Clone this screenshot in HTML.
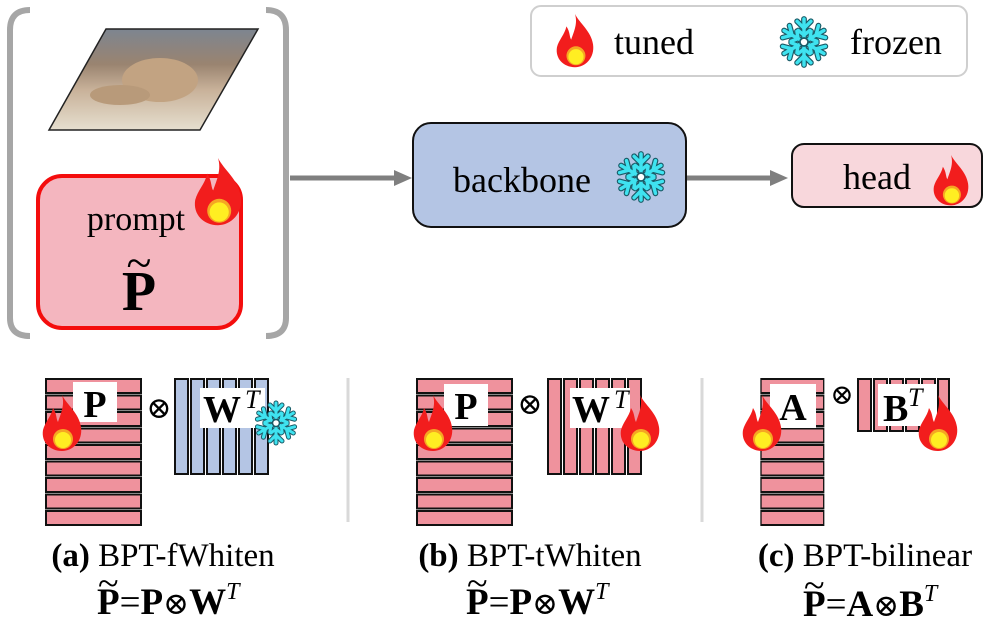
<!DOCTYPE html>
<html><head><meta charset="utf-8"><style>
html,body{margin:0;padding:0;background:#fff}
svg{display:block}
</style></head><body>
<svg width="987" height="624" viewBox="0 0 987 624" xmlns="http://www.w3.org/2000/svg" font-family="'Liberation Serif', 'DejaVu Serif', serif">
<defs>
<g id="flame">
<path d="M20 0 C25 10 37 18 39 32 C41 46 31 56 20 56 C8 56 -1 47 1 35 C3 27 9 22 11 13 C15 19 14 24 16 27 C19 18 23 10 20 0Z" fill="#f21d1d"/>
<circle cx="21" cy="44" r="10" fill="#f5a623"/>
<circle cx="21" cy="45" r="8" fill="#ffee22"/>
</g>
<g id="arm">
<line x1="0" y1="0" x2="0" y2="-20"/>
<polyline points="-6,-18 0,-12 6,-18" fill="none"/>
<polyline points="-5,-10 0,-6 5,-10" fill="none"/>
</g>
<g id="snowarms">
<use href="#arm"/><use href="#arm" transform="rotate(60)"/><use href="#arm" transform="rotate(120)"/>
<use href="#arm" transform="rotate(180)"/><use href="#arm" transform="rotate(240)"/><use href="#arm" transform="rotate(300)"/>
</g>
<g id="snow">
<g stroke="#1a5a66" stroke-width="5" stroke-linecap="round"><use href="#snowarms"/></g>
<g stroke="#3fe3f0" stroke-width="3" stroke-linecap="round"><use href="#snowarms"/></g>
<circle r="3.5" fill="#fff" stroke="#1a5a66" stroke-width="1.5"/>
</g>
<g id="hstack">
<rect x="0" y="0" width="95" height="14" fill="#ef929d" stroke="#111" stroke-width="2"/>
<rect x="0" y="16.5" width="95" height="14" fill="#ef929d" stroke="#111" stroke-width="2"/>
<rect x="0" y="33" width="95" height="14" fill="#ef929d" stroke="#111" stroke-width="2"/>
<rect x="0" y="49.5" width="95" height="14" fill="#ef929d" stroke="#111" stroke-width="2"/>
<rect x="0" y="66" width="95" height="14" fill="#ef929d" stroke="#111" stroke-width="2"/>
<rect x="0" y="82.5" width="95" height="14" fill="#ef929d" stroke="#111" stroke-width="2"/>
<rect x="0" y="99" width="95" height="14" fill="#ef929d" stroke="#111" stroke-width="2"/>
<rect x="0" y="115.5" width="95" height="14" fill="#ef929d" stroke="#111" stroke-width="2"/>
<rect x="0" y="132" width="95" height="14" fill="#ef929d" stroke="#111" stroke-width="2"/>
</g>
<linearGradient id="img" x1="0" y1="0" x2="0" y2="1">
<stop offset="0" stop-color="#7d8590"/><stop offset="0.35" stop-color="#9a8470"/><stop offset="0.6" stop-color="#c8b199"/><stop offset="1" stop-color="#e6dfcf"/></linearGradient>
</defs>

<path d="M30 10 Q10 10 10 30 L10 318 Q10 336 30 336" fill="none" stroke="#a6a6a6" stroke-width="6"/>
<path d="M266 10 Q286 10 286 30 L286 318 Q286 336 266 336" fill="none" stroke="#a6a6a6" stroke-width="6"/>
<polygon points="106,29 258,29 200,130 49,130" fill="url(#img)" stroke="#222" stroke-width="1.5"/>
<ellipse cx="160" cy="80" rx="38" ry="22" fill="#c2a382"/>
<ellipse cx="120" cy="95" rx="30" ry="10" fill="#b89a7a"/>
<rect x="38" y="176" width="203" height="152" rx="24" fill="#f4b6bf" stroke="#f40d0d" stroke-width="4"/>
<text x="136" y="230" font-size="34" text-anchor="middle">prompt</text>
<text x="139" y="310" font-size="56" font-weight="bold" text-anchor="middle">P</text>
<text x="139" y="278" font-size="46" text-anchor="middle">~</text>
<use href="#flame" transform="translate(194,158) scale(1.2)"/>
<line x1="290" y1="178" x2="396" y2="178" stroke="#7f7f7f" stroke-width="5"/>
<polygon points="394,170 412,178 394,186" fill="#7f7f7f"/>
<line x1="687" y1="178" x2="772" y2="178" stroke="#7f7f7f" stroke-width="5"/>
<polygon points="770,170 788,178 770,186" fill="#7f7f7f"/>
<rect x="413" y="123" width="273" height="104" rx="18" fill="#b4c5e4" stroke="#111" stroke-width="2"/>
<text x="522" y="192" font-size="36" text-anchor="middle">backbone</text>
<use href="#snow" transform="translate(641,177) scale(1.15)"/>
<rect x="792" y="144" width="190" height="63" rx="12" fill="#f8d7dc" stroke="#111" stroke-width="2"/>
<text x="877" y="189" font-size="36" text-anchor="middle">head</text>
<use href="#flame" transform="translate(933,155) scale(0.9)"/>
<rect x="531" y="6" width="436" height="70" rx="10" fill="#fff" stroke="#cfcfcf" stroke-width="2"/>
<use href="#flame" transform="translate(556,14) scale(0.95)"/>
<text x="614" y="54" font-size="36">tuned</text>
<use href="#snow" transform="translate(804,42) scale(1.15)"/>
<text x="850" y="54" font-size="36">frozen</text>

<line x1="348" y1="378" x2="348" y2="522" stroke="#d9d9d9" stroke-width="3"/>
<line x1="702" y1="378" x2="702" y2="522" stroke="#d9d9d9" stroke-width="3"/>

<!-- (a) -->
<use href="#hstack" transform="translate(46,379)"/>
<rect x="73" y="382" width="44" height="40" fill="#fff"/>
<text x="95" y="417" font-size="38" font-weight="bold" text-anchor="middle">P</text>
<use href="#flame" transform="translate(42,395) scale(1.0)"/>
<text x="159" y="418" font-size="30" text-anchor="middle">⊗</text>
<g fill="#b4c5e4" stroke="#111" stroke-width="2">
<rect x="175" y="379" width="13" height="95"/><rect x="191" y="379" width="13" height="95"/><rect x="207" y="379" width="13" height="95"/>
<rect x="223" y="379" width="13" height="95"/><rect x="239" y="379" width="13" height="95"/><rect x="255" y="379" width="13" height="95"/>
</g>
<rect x="200" y="388" width="65" height="40" fill="#fff"/>
<text x="203" y="422" font-size="38" font-weight="bold">W</text>
<text x="245" y="408" font-size="26" font-style="italic">T</text>
<use href="#snow" transform="translate(276,423)"/>
<text x="163" y="566" font-size="33" text-anchor="middle"><tspan font-weight="bold">(a)</tspan> BPT-fWhiten</text>
<text x="97" y="614" font-size="37" font-weight="bold">P<tspan font-weight="normal">=</tspan>P<tspan font-weight="normal" font-size="31">⊗</tspan>W<tspan font-weight="normal" font-style="italic" font-size="24" dy="-15">T</tspan></text>
<text x="98" y="596" font-size="38">~</text>

<!-- (b) -->
<use href="#hstack" transform="translate(417,379)"/>
<rect x="444" y="384" width="44" height="42" fill="#fff"/>
<text x="466" y="419" font-size="38" font-weight="bold" text-anchor="middle">P</text>
<use href="#flame" transform="translate(413,395) scale(1.0)"/>
<text x="530" y="414" font-size="30" text-anchor="middle">⊗</text>
<g fill="#ef929d" stroke="#111" stroke-width="2">
<rect x="548" y="379" width="13" height="95"/><rect x="564" y="379" width="13" height="95"/><rect x="580" y="379" width="13" height="95"/>
<rect x="596" y="379" width="13" height="95"/><rect x="612" y="379" width="13" height="95"/><rect x="628" y="379" width="13" height="95"/>
</g>
<rect x="570" y="388" width="60" height="40" fill="#fff"/>
<text x="572" y="422" font-size="38" font-weight="bold">W</text>
<text x="614" y="408" font-size="26" font-style="italic">T</text>
<use href="#flame" transform="translate(620,395) scale(1.0)"/>
<text x="530" y="566" font-size="33" text-anchor="middle"><tspan font-weight="bold">(b)</tspan> BPT-tWhiten</text>
<text x="466" y="614" font-size="37" font-weight="bold">P<tspan font-weight="normal">=</tspan>P<tspan font-weight="normal" font-size="31">⊗</tspan>W<tspan font-weight="normal" font-style="italic" font-size="24" dy="-15">T</tspan></text>
<text x="467" y="596" font-size="38">~</text>

<!-- (c) -->
<g transform="translate(761,379) scale(0.66,1)"><use href="#hstack"/></g>
<rect x="770" y="384" width="46" height="44" fill="#fff"/>
<text x="793" y="420" font-size="38" font-weight="bold" text-anchor="middle">A</text>
<use href="#flame" transform="translate(742,395) scale(1.0)"/>
<text x="842" y="404" font-size="28" text-anchor="middle">⊗</text>
<g fill="#ef929d" stroke="#111" stroke-width="2">
<rect x="858" y="379" width="13" height="52"/><rect x="874" y="379" width="13" height="52"/><rect x="890" y="379" width="13" height="52"/>
<rect x="906" y="379" width="13" height="52"/><rect x="922" y="379" width="13" height="52"/><rect x="938" y="379" width="11" height="52"/>
</g>
<rect x="878" y="384" width="58" height="42" fill="#fff"/>
<text x="883" y="421" font-size="38" font-weight="bold">B</text>
<text x="908" y="406" font-size="26" font-style="italic">T</text>
<use href="#flame" transform="translate(918,395) scale(1.0)"/>
<text x="865" y="566" font-size="33" text-anchor="middle"><tspan font-weight="bold">(c)</tspan> BPT-bilinear</text>
<text x="803" y="616" font-size="37" font-weight="bold">P<tspan font-weight="normal">=</tspan>A<tspan font-weight="normal" font-size="31">⊗</tspan>B<tspan font-weight="normal" font-style="italic" font-size="24" dy="-15">T</tspan></text>
<text x="804" y="598" font-size="38">~</text>
</svg>
</body></html>
